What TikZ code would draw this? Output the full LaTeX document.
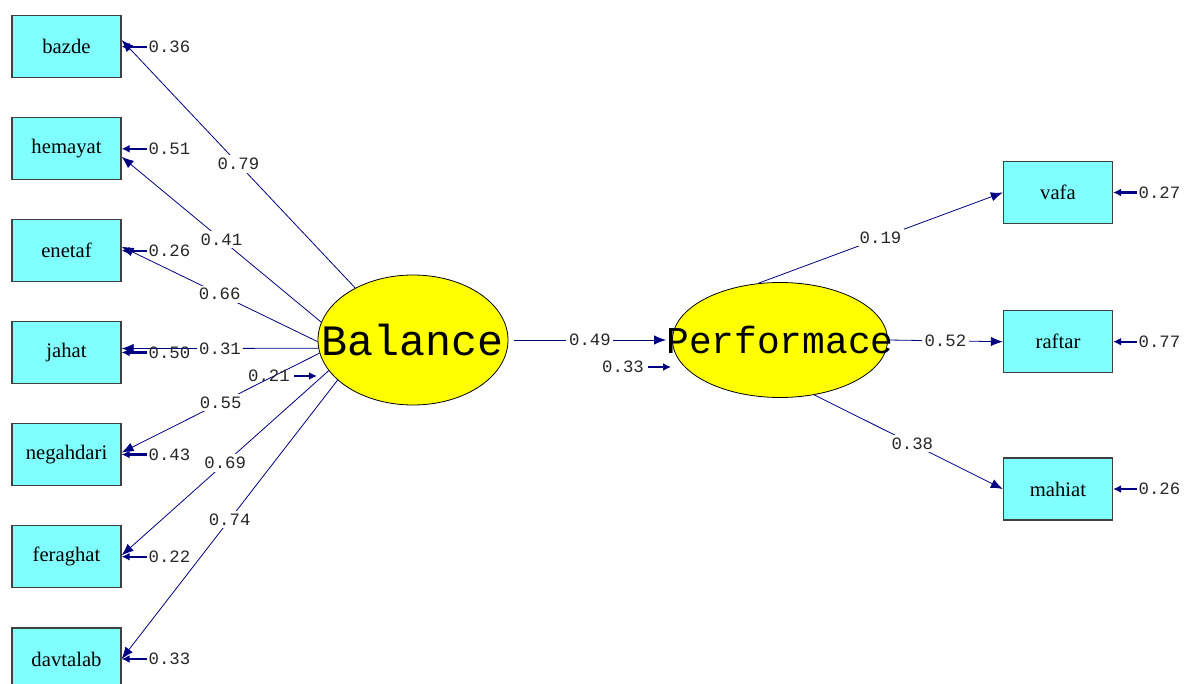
\documentclass[tikz,border=0pt]{standalone}
\usepackage{fontspec}
\setmainfont{Liberation Serif}
\newfontfamily\coefmono{Liberation Mono}
\usetikzlibrary{arrows.meta, shapes.geometric}

\definecolor{boxcyan}{RGB}{128,255,255}
\definecolor{latyellow}{RGB}{255,255,0}
\definecolor{pathnavy}{RGB}{0,0,128}

\begin{document}
\begin{tikzpicture}[x=0.75pt, y=-0.75pt,
    obs/.style={draw=black!75, line width=1pt, fill=boxcyan, minimum width=81.75pt,
                minimum height=46.5pt, inner sep=0pt, font=\fontsize{15.5}{18}\selectfont},
    lat/.style={ellipse, draw=black, line width=0.6pt, fill=latyellow, inner sep=0pt},
    coef/.style={font=\coefmono\fontsize{13}{15}\selectfont, text=black!85, inner sep=1pt},
    onpath/.style={coef, fill=white, inner sep=2pt},
    loading/.style={draw=pathnavy, line width=0.6pt, -{Latex[length=9pt, width=7pt]}},
    errarr/.style={draw=pathnavy, line width=1.6pt, -{Latex[length=6pt, width=6pt]}}]
    % Tamaño de la imagen (en pixeles)
    \useasboundingbox (0,0) rectangle (1185,684);

    % Columnas de las cajas
    \def\xizq{66.5}    % indicadores de Balance
    \def\xder{1058}    % indicadores de Performace

    % Variables latentes
    \node[lat, minimum width=142.5pt, minimum height=97.5pt] (Balance) at (413,340)
        {\makebox[0pt]{\coefmono\fontsize{32.5}{34}\selectfont Balance}};
    \node[lat, minimum width=161.25pt, minimum height=86.25pt] (Performace) at (780,340)
        {\makebox[0pt]{\coefmono\fontsize{28.4}{30}\selectfont Performace}};

    % Indicadores de Balance (lado izquierdo)
    \node[obs] (bazde)     at (\xizq,46.7)  {bazde};
    \node[obs] (hemayat)   at (\xizq,148.8) {hemayat};
    \node[obs] (enetaf)    at (\xizq,250.7) {enetaf};
    \node[obs] (jahat)     at (\xizq,352.5) {jahat};
    \node[obs] (negahdari) at (\xizq,454.5) {negahdari};
    \node[obs] (feraghat)  at (\xizq,556.7) {feraghat};
    \node[obs] (davtalab)  at (\xizq,659)   {davtalab};

    % Indicadores de Performace (lado derecho)
    \node[obs] (vafa)   at (\xder,192.5) {vafa};
    \node[obs] (raftar) at (\xder,341.7) {raftar};
    \node[obs] (mahiat) at (\xder,489)   {mahiat};

    % Cargas de Balance
    \draw[loading] (Balance.138) -- ([yshift=5pt]bazde.east)     node[onpath, midway] {0.79};
    \draw[loading] (Balance.169) -- ([yshift=-6pt]hemayat.east)  node[onpath, midway] {0.41};
    \draw[loading] (Balance.181) -- ([yshift=3pt]enetaf.east)    node[onpath, midway] {0.66};
    \draw[loading] (Balance.185) -- ([yshift=3pt]jahat.east)     node[onpath, midway] {0.31};
    \draw[loading] (Balance.188) -- ([yshift=1.5pt]negahdari.east) node[onpath, midway] {0.55};
    \draw[loading] (Balance.200) -- ([yshift=1pt]feraghat.east)  node[onpath, midway] {0.69};
    \draw[loading] (Balance.208) -- (davtalab.east)              node[onpath, midway] {0.74};

    % Efecto estructural Balance -> Performace
    \draw[loading] ([xshift=4pt]Balance.east) -- ([xshift=-4.5pt]Performace.west)
        node[onpath, midway] {0.49};

    % Cargas de Performace
    \draw[loading] (Performace.111) -- (vafa.west)   node[onpath, midway] {0.19};
    \draw[loading] (Performace.east) -- (raftar.west) node[onpath, midway] {0.52};
    \draw[loading] (Performace.302) -- (mahiat.west) node[onpath, pos=0.52] {0.38};

    % Errores de medida (izquierda)
    \node[coef, anchor=west] (ebazde)     at (147,46.7)  {0.36};
    \node[coef, anchor=west] (ehemayat)   at (147,148.8) {0.51};
    \node[coef, anchor=west] (eenetaf)    at (147,250.7) {0.26};
    \node[coef, anchor=west] (ejahat)     at (147,352.5) {0.50};
    \node[coef, anchor=west] (enegahdari) at (147,454.5) {0.43};
    \node[coef, anchor=west] (eferaghat)  at (147,556.7) {0.22};
    \node[coef, anchor=west] (edavtalab)  at (147,659)   {0.33};
    \draw[errarr] (ebazde.west)     -- (bazde.east);
    \draw[errarr] (ehemayat.west)   -- (hemayat.east);
    \draw[errarr] (eenetaf.west)    -- (eenetaf.west -| enetaf.east);
    \draw[errarr] (ejahat.west)     -- (jahat.east);
    \draw[errarr] (enegahdari.west) -- (negahdari.east);
    \draw[errarr] (eferaghat.west)  -- (feraghat.east);
    \draw[errarr] (edavtalab.west)  -- (davtalab.east);

    % Errores de medida (derecha)
    \node[coef, anchor=west] (evafa)   at (1137,192.5) {0.27};
    \node[coef, anchor=west] (eraftar) at (1137,341.7) {0.77};
    \node[coef, anchor=west] (emahiat) at (1137,489)   {0.26};
    \draw[errarr] (evafa.west)   -- (vafa.east);
    \draw[errarr] (eraftar.west) -- (raftar.east);
    \draw[errarr] (emahiat.west) -- (mahiat.east);

    % Perturbaciones de las latentes
    \node[coef] (zBalance) at (269,376) {0.21};
    \coordinate (zBalancetip) at (317,376);
    \draw[errarr] ([xshift=2pt]zBalance.east) -- (zBalancetip);
    \node[coef] (zPerformace) at (623,367) {0.33};
    \coordinate (zPerformacetip) at (671,367);
    \draw[errarr] ([xshift=2pt]zPerformace.east) -- (zPerformacetip);
\end{tikzpicture}
\end{document}
